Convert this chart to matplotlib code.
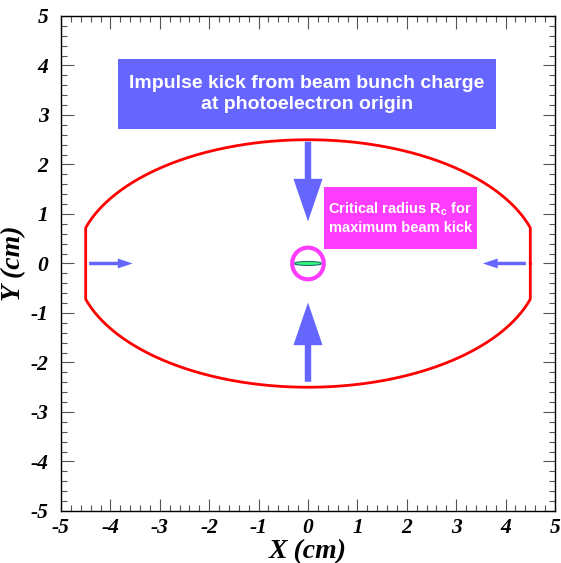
import matplotlib
matplotlib.use("Agg")
import matplotlib.pyplot as plt
import numpy as np
from matplotlib.patches import Ellipse, Circle, Rectangle, FancyArrow
from matplotlib.ticker import MultipleLocator

# beam pipe outline (ellipse cut flat at the sides), cm
pipe_a = 4.7
pipe_b = 2.5
pipe_flat_x = 4.5

# beam bunch and critical radius, cm
bunch_rx = 0.28
bunch_ry = 0.04
crit_radius = 0.32

# arrows: (x_start, y_start, dx, dy)
big_arrows = [(0.0, 2.46, 0.0, -1.61), (0.0, -2.39, 0.0, 1.60)]
small_arrows = [(-4.43, 0.0, 0.88, 0.0), (4.41, 0.0, -0.87, 0.0)]

title_box = (-3.85, 2.72, 7.65, 1.41)
title_text = "Impulse kick from beam bunch charge\nat photoelectron origin"
rc_box = (0.32, 0.30, 3.10, 1.25)
rc_text = "Critical radius R$_\\mathregular{c}$ for\nmaximum beam kick"

xmin, xmax = -5, 5
ymin, ymax = -5, 5

blue = "#6666ff"
magenta = "#ff3dff"

fig = plt.figure(figsize=(5.61, 5.63), dpi=100)
ax = fig.add_axes([0.1087, 0.0924, 0.8806, 0.8792])
ax.set_xlim(xmin, xmax)
ax.set_ylim(ymin, ymax)

# pipe outline
t = np.linspace(0, 2 * np.pi, 721)
px = pipe_a * np.cos(t)
py = pipe_b * np.sin(t)
px = np.clip(px, -pipe_flat_x, pipe_flat_x)
ax.plot(px, py, color="red", lw=2.0, zorder=3)

# arrows
for x0, y0, dx, dy in big_arrows:
    ax.add_patch(FancyArrow(x0, y0, dx, dy, width=0.13, head_width=0.59,
                            head_length=0.86, length_includes_head=True,
                            color=blue, lw=0, zorder=4))
for x0, y0, dx, dy in small_arrows:
    ax.add_patch(FancyArrow(x0, y0, dx, dy, width=0.07, head_width=0.2,
                            head_length=0.3, length_includes_head=True,
                            color=blue, lw=0, zorder=4))

# bunch and critical radius
ax.add_patch(Ellipse((0, 0), 2 * bunch_rx, 2 * bunch_ry, facecolor="#33ff77",
                     edgecolor="#226677", lw=0.8, zorder=5))
ax.add_patch(Circle((0, 0), crit_radius, fill=False, edgecolor=magenta,
                    lw=3.0, zorder=5))

# text boxes
x0, y0, w, h = title_box
ax.add_patch(Rectangle((x0, y0), w, h, facecolor=blue, edgecolor="none", zorder=4))
ax.text(x0 + w / 2, y0 + h / 2, title_text, ha="center", va="center",
        color="white", fontsize=14, fontweight="bold",
        family="Liberation Sans", linespacing=1.25, zorder=6)

x0, y0, w, h = rc_box
ax.add_patch(Rectangle((x0, y0), w, h, facecolor=magenta, edgecolor="none", zorder=4))
ax.text(x0 + w / 2, y0 + h / 2, rc_text, ha="center", va="center",
        color="white", fontsize=10.5, fontweight="bold",
        family="Liberation Sans", linespacing=1.35, zorder=6)

# ROOT-like axes
ax.xaxis.set_major_locator(MultipleLocator(1))
ax.xaxis.set_minor_locator(MultipleLocator(0.2))
ax.yaxis.set_major_locator(MultipleLocator(1))
ax.yaxis.set_minor_locator(MultipleLocator(0.2))
ax.tick_params(which="both", direction="in", top=True, right=True, width=0.8,
               color="#555555")
ax.tick_params(which="major", length=9)
ax.tick_params(which="minor", length=4.5)
ax.tick_params(axis="x", pad=5)
ax.tick_params(axis="y", pad=9)
for s in ax.spines.values():
    s.set_linewidth(1.0)

tick_font = dict(family="Liberation Serif", weight="bold", style="italic", size=15.5)
ax.set_xticks(np.arange(xmin, xmax + 1, 1))
ax.set_yticks(np.arange(ymin, ymax + 1, 1))
ax.set_xticklabels([str(v) for v in range(xmin, xmax + 1)], fontdict=tick_font)
ax.set_yticklabels([str(v) for v in range(ymin, ymax + 1)], fontdict=tick_font)

label_font = dict(family="Liberation Serif", weight="bold", style="italic", size=20)
ax.set_xlabel("X (cm)", fontdict=label_font, labelpad=1)
ax.set_ylabel("Y (cm)", fontdict=label_font, labelpad=3)

fig.savefig("out.png", dpi=100)
